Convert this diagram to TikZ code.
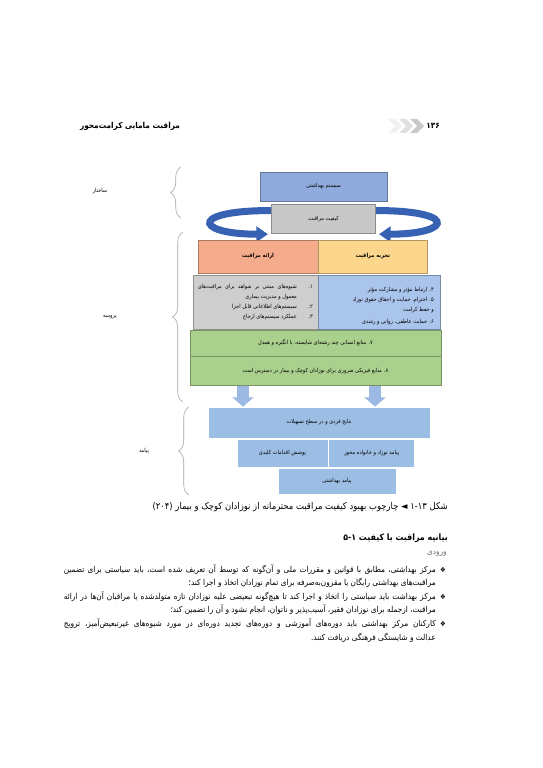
\documentclass[tikz,border=0pt]{standalone}
\usepackage{fontspec}
\usepackage{xcolor}
\usepackage{tikz}
\usetikzlibrary{shapes,arrows.meta,positioning,calc,decorations.pathreplacing}
\TeXXeTstate=1
\newfontfamily\fa[Script=Arabic,FakeStretch=0.9]{DejaVu Sans}
\definecolor{sysblue}{RGB}{143,170,220}
\definecolor{qualgray}{RGB}{200,200,200}
\definecolor{provorange}{RGB}{245,172,140}
\definecolor{expyellow}{RGB}{252,214,140}
\definecolor{listgray}{RGB}{206,206,206}
\definecolor{listblue}{RGB}{170,197,235}
\definecolor{resgreen}{RGB}{170,208,142}
\definecolor{outblue}{RGB}{157,190,228}
\definecolor{loopblue}{RGB}{55,98,180}
\definecolor{flowblue}{RGB}{155,185,226}
\definecolor{bracegray}{RGB}{165,165,165}
\pgfdeclarelayer{back}
\pgfsetlayers{back,main}
\newcommand{\rtl}[1]{{\fa\beginR #1\endR}}
\newcommand{\jline}[2]{\hbox to #1{\fa #2}}
\tikzset{
    block/.style={rectangle, draw=#1!70!black, line width=0.3pt, fill=#1, inner sep=1pt, font=\fontsize{4.8}{6}\selectfont},
    outbox/.style={rectangle, draw=white, line width=0.6pt, fill=outblue, inner sep=1pt, font=\fontsize{4.8}{6}\selectfont},
    item/.style={anchor=east, inner sep=0pt, font=\fontsize{4.8}{6}\selectfont},
    sidelabel/.style={inner sep=0pt, font=\fontsize{4.8}{6}\selectfont},
    bracket/.style={draw=bracegray, line width=0.5pt, decorate, decoration={brace, amplitude=9pt}},
    qualityloop/.style={draw=loopblue, line width=6pt, -{Triangle[width=13pt,length=10pt]}},
    flowarrow/.style={draw=flowblue, line width=10pt, -{Triangle[width=18pt,length=8pt]}},
    para/.style={anchor=east, inner sep=0pt, font=\fontsize{7}{9}\selectfont},
    bulletmark/.style={inner sep=0pt, font=\fontsize{6}{7}\selectfont}
}

\begin{document}
\begin{tikzpicture}[x=0.03cm, y=-0.03cm]
    \useasboundingbox (0,0) rectangle (543,768);

    % Page header
    \node[para, anchor=center, font=\fontsize{7}{8}\selectfont\bfseries] (booktitle) at (130,126) {\rtl{مراقبت مامایی کرامت‌محور}};
    \foreach \i/\c in {0/gray!12, 1/gray!25, 2/gray!42}
        \fill[\c] ({388+\i*11},119) -- ({395+\i*11},119) -- ({402+\i*11},126) -- ({395+\i*11},133) -- ({388+\i*11},133) -- ({395+\i*11},126) -- cycle;
    \node[para, anchor=center, font=\fontsize{7}{8}\selectfont\bfseries] (pagenum) at (433,126) {\rtl{۱۳۶}};

    % Structure
    \node[block=sysblue, minimum width=3.81cm, minimum height=0.87cm] (system) at (323.5,186.5) {\rtl{سیستم بهداشتی}};
    \node[block=qualgray, minimum width=3.12cm, minimum height=0.87cm, below=0.09cm of system] (quality) {\rtl{کیفیت مراقبت}};

    % Process
    \node[block=provorange, minimum width=3.6cm, minimum height=0.99cm] (provision) at (258,256.5) {\rtl{\bfseries ارائه مراقبت}};
    \node[block=expyellow, minimum width=3.27cm, minimum height=0.99cm, right=0pt of provision] (experience) {\rtl{\bfseries تجربه مراقبت}};
    \node[block=listgray, minimum width=3.75cm, minimum height=1.62cm] (provlist) at (255.5,302) {};
    \node[block=listblue, minimum width=3.66cm, minimum height=1.62cm, right=0pt of provlist] (explist) {};
    \node[block=resgreen, minimum width=7.53cm, minimum height=0.78cm] (staff) at (315.5,343) {\rtl{۷. منابع انسانی چند رشته‌ای شایسته، با انگیزه و همدل}};
    \node[block=resgreen, minimum width=7.53cm, minimum height=0.87cm, below=0pt of staff] (physical) {\rtl{۸. منابع فیزیکی ضروری برای نوزادان کوچک و بیمار در دسترس است}};

    % Provision items
    \node[item] (p1num) at (313,287) {\rtl{۱.}};
    \node[item] (p1) at (297,287) {\jline{2.97cm}{\beginR شیوه‌های مبتنی بر شواهد برای مراقبت‌های\endR}};
    \node[item] (p1b) at (297,297) {\rtl{معمول و مدیریت بیماری}};
    \node[item] (p2num) at (313,307) {\rtl{۲.}};
    \node[item] (p2) at (297,307) {\rtl{سیستم‌های اطلاعاتی قابل اجرا}};
    \node[item] (p3num) at (313,317) {\rtl{۳.}};
    \node[item] (p3) at (297,317) {\rtl{عملکرد سیستم‌های ارجاع}};

    % Experience items
    \node[item] (e4) at (434,290) {\rtl{۴. ارتباط مؤثر و مشارکت مؤثر}};
    \node[item] (e5) at (434,300) {\rtl{۵. احترام، حمایت و احقاق حقوق نوزاد}};
    \node[item] (e5b) at (434,310) {\rtl{و حفظ کرامت}};
    \node[item] (e6) at (434,322) {\rtl{۶. حمایت عاطفی، روانی و رشدی}};

    % Outcome
    \node[outbox, minimum width=6.66cm, minimum height=0.93cm] (results) at (319,422.5) {\rtl{نتایج فردی و در سطح تسهیلات}};
    \node[outbox, minimum width=2.73cm, minimum height=0.84cm] (coverage) at (282.5,453) {\rtl{پوشش اقدامات کلیدی}};
    \node[outbox, minimum width=2.58cm, minimum height=0.84cm, right=0pt of coverage] (newborn) {\rtl{پیامد نوزاد و خانواده محور}};
    \node[outbox, minimum width=3.54cm, minimum height=0.78cm] (health) at (337,481) {\rtl{پیامد بهداشتی}};

    % Quality loop
    \begin{pgfonlayer}{back}
        \draw[qualityloop] ([shift={(0.48cm,-0.2cm)}]quality.north west) .. controls +(-3cm,0.1cm) and +(-2.3cm,0cm) .. ([shift={(-0.1cm,-0.02cm)}]quality.south west);
        \draw[qualityloop] ([shift={(-0.48cm,-0.2cm)}]quality.north east) .. controls +(3cm,0.1cm) and +(2.3cm,0cm) .. ([shift={(0.1cm,-0.02cm)}]quality.south east);
    \end{pgfonlayer}

    % Process to outcome
    \draw[flowarrow] ([xshift=-2.175cm]physical.south) -- ([xshift=-2.175cm]physical.south |- results.north);
    \draw[flowarrow] ([xshift=1.785cm]physical.south) -- ([xshift=1.785cm]physical.south |- results.north);

    % Braces
    \draw[bracket] (181,218) -- (181,167);
    \draw[bracket] (183,402) -- (183,232);
    \draw[bracket] (189,495) -- (189,407);
    \node[sidelabel] (structlabel) at (100,191) {\rtl{ساختار}};
    \node[sidelabel] (proclabel) at (110,317) {\rtl{پروسه}};
    \node[sidelabel] (outlabel) at (144,451) {\rtl{پیامد}};

    % Caption
    \node[para, font=\fontsize{8}{9}\selectfont] (caption) at (448,507) {\rtl{شکل ۱-۱۳ ◄ چارچوب بهبود کیفیت مراقبت محترمانه از نوزادان کوچک و بیمار (۲۰۴)}};

    % Section text
    \node[para, font=\fontsize{7.5}{9}\selectfont\bfseries] (heading) at (448,538) {\rtl{بیانیه مراقبت با کیفیت ۵-۱}};
    \node[para, text=gray!85!black] (input) at (447,554) {\rtl{ورودی}};
    \node[bulletmark] (b1) at (443,570) {\rtl{❖}};
    \node[para] (l1) at (436,570) {\jline{11.16cm}{\beginR مرکز بهداشتی، مطابق با قوانین و مقررات ملی و آن‌گونه که توسط آن تعریف شده است، باید سیاستی برای تضمین\endR}};
    \node[para] (l2) at (436,583) {\rtl{مراقبت‌های بهداشتی رایگان یا مقرون‌به‌صرفه برای تمام نوزادان اتخاذ و اجرا کند؛}};
    \node[bulletmark] (b2) at (443,597) {\rtl{❖}};
    \node[para] (l3) at (436,597) {\jline{11.16cm}{\beginR مرکز بهداشت باید سیاستی را اتخاذ و اجرا کند تا هیچ‌گونه تبعیضی علیه نوزادان تازه متولدشده یا مراقبان آن‌ها در ارائه\endR}};
    \node[para] (l4) at (436,610) {\rtl{مراقبت، ازجمله برای نوزادان فقیر، آسیب‌پذیر و ناتوان، انجام نشود و آن را تضمین کند؛}};
    \node[bulletmark] (b3) at (443,624) {\rtl{❖}};
    \node[para] (l5) at (436,624) {\jline{11.16cm}{\beginR کارکنان مرکز بهداشتی باید دوره‌های آموزشی و دوره‌های تجدید دوره‌ای در مورد شیوه‌های غیرتبعیض‌آمیز، ترویج\endR}};
    \node[para] (l6) at (436,638) {\rtl{عدالت و شایستگی فرهنگی دریافت کنند.}};
\end{tikzpicture}
\end{document}
